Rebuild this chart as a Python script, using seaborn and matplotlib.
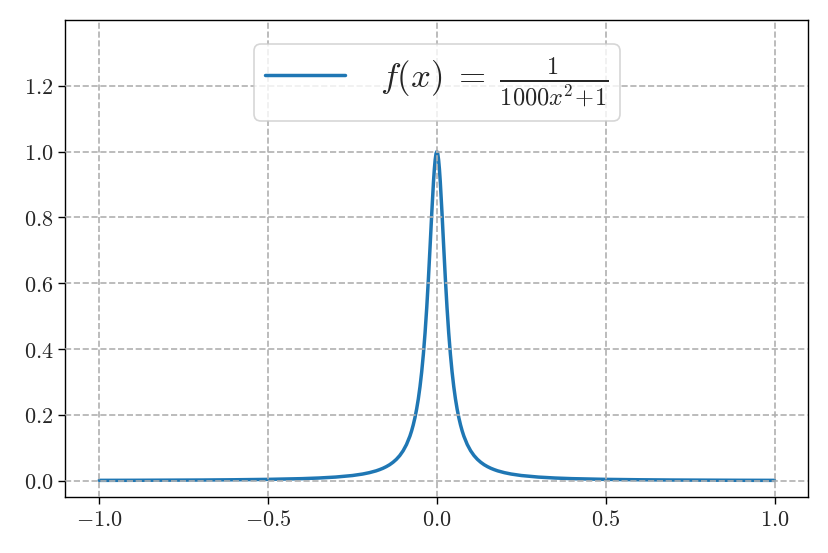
import numpy as np
import pandas as pd
import matplotlib
matplotlib.use("Agg")
import matplotlib.pyplot as plt
import seaborn as sns
from matplotlib.ticker import FuncFormatter

# values (x, f(x)), right half; the curve is symmetric
x_half = [0.0, 0.0025, 0.005, 0.0075, 0.01, 0.015, 0.02, 0.025, 0.03, 0.035,
          0.04, 0.045, 0.05, 0.055, 0.06, 0.065, 0.07, 0.075, 0.08, 0.09,
          0.1, 0.11, 0.12, 0.13, 0.14, 0.15, 0.16, 0.17, 0.18, 0.2, 0.22,
          0.25, 0.3, 0.35, 0.4, 0.5, 0.6, 0.7, 0.8, 0.9, 1.0]
y_half = [1.0, 0.9938, 0.9756, 0.9467, 0.9091, 0.8163, 0.7143, 0.6154,
          0.5263, 0.4494, 0.3846, 0.3306, 0.2857, 0.2484, 0.2174, 0.1914,
          0.1695, 0.1509, 0.1351, 0.1099, 0.0909, 0.0763, 0.0649, 0.0559,
          0.0485, 0.0426, 0.0376, 0.0335, 0.0299, 0.0244, 0.0202, 0.0157,
          0.0110, 0.0081, 0.0062, 0.0040, 0.0028, 0.0020, 0.0016, 0.0012,
          0.0010]
label = r"$f(x)\;=\;\frac{1}{1000x^2\!+\!1}$"

x_vals = [-v for v in x_half[:0:-1]] + x_half
y_vals = y_half[:0:-1] + y_half
df = pd.DataFrame({"x": x_vals, "y": y_vals})

sns.set_style("ticks")
plt.rcParams["mathtext.fontset"] = "cm"
plt.rcParams["font.family"] = ["serif"]

fig = plt.figure(figsize=(8.29, 5.53), dpi=100)
ax = fig.add_axes([0.079, 0.101, 0.896, 0.863])

sns.lineplot(data=df, x="x", y="y", ax=ax, color="#1f77b4", linewidth=2.5,
             label=label, sort=False)

ax.set_xlim(-1.1, 1.1)
ax.set_ylim(-0.05, 1.4)
ax.set_xticks([-1.0, -0.5, 0.0, 0.5, 1.0])
ax.set_yticks([0.0, 0.2, 0.4, 0.6, 0.8, 1.0, 1.2])
fmt = FuncFormatter(lambda v, p: f"${v:.1f}$")
ax.xaxis.set_major_formatter(fmt)
ax.yaxis.set_major_formatter(fmt)
ax.tick_params(labelsize=16, length=5, width=1, color="black")
ax.set_xlabel("")
ax.set_ylabel("")
for s in ax.spines.values():
    s.set_color("black")
    s.set_linewidth(1)

ax.set_axisbelow(False)
ax.grid(True, linestyle="--", color="#b0b0b0", linewidth=1.2)

leg = ax.legend(loc="upper center", fontsize=25, framealpha=0.8,
                edgecolor="#cccccc", handlelength=2.3, handletextpad=1.0,
                borderpad=0.33, borderaxespad=0.7)
leg.get_frame().set_linewidth(1.2)

fig.savefig("out.png", dpi=100)
